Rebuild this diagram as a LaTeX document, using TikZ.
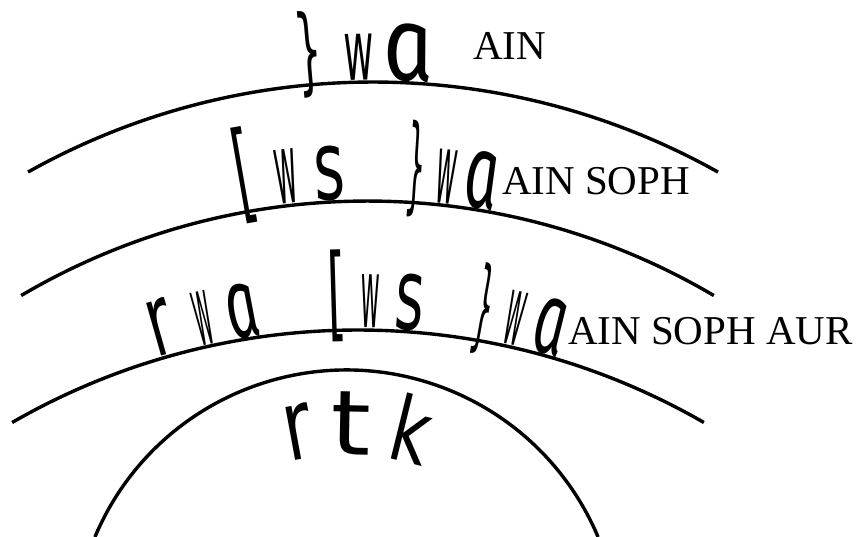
\documentclass[tikz,border=0pt]{standalone}
\usepackage{fontspec}
\usepackage{graphicx}
\setmainfont{Liberation Serif}
\newfontfamily\hsans{DejaVu Sans}
\newfontfamily\hafam{Fira Sans}[ItalicFeatures={FakeSlant=-0.2}]
\usetikzlibrary{calc}
\newcommand\hglyph[7]{%
  \pgfmathsetmacro\hgth{asin((#4)/(#3))}%
  \node[gl,rotate=-\hgth] (#1) at ($(#2)+({90-\hgth}:#3)$) {\resizebox*{#5pt}{#6pt}{#7}};%
}
\newcommand\hebA{{\hafam\itshape a}}
\begin{document}
\begin{tikzpicture}[x=1pt,y=1pt,line width=3.4pt,
  gl/.style={inner sep=0pt,outer sep=0pt,anchor=base,font=\hsans},
  lat/.style={inner sep=0pt,outer sep=0pt,anchor=base west,font=\fontsize{41}{45}\selectfont}]
\useasboundingbox (0,0) rectangle (863,537);
% arc centres (y measured upward)
\coordinate (C1) at (373,-251);
\coordinate (C2) at (367.5,-346);
\coordinate (C3) at (358,-486);
\coordinate (C4) at (346.5,-106);
\coordinate (C5) at (346.5,-158);
% arcs
\draw ($(C1)+(119.25:706)$) arc[start angle=119.25,end angle=60.75,radius=706];
\draw ($(C2)+(120.52:682)$) arc[start angle=120.52,end angle=59.48,radius=682];
\draw ($(C3)+(119.94:693)$) arc[start angle=119.94,end angle=60.06,radius=693];
\draw ($(C4)+(157.15:273)$) arc[start angle=157.15,end angle=22.85,radius=273];
% group 1
\hglyph{g1a}{C1}{708}{-62}{26}{87}{\}}
\hglyph{g1b}{C1}{708}{-14}{30}{46}{w}
\hglyph{g1c}{C1}{708}{38}{50}{58}{\hebA}
\node[lat] (t1) at (473,477) {AIN};
% group 2
\hglyph{g2a}{C2}{684}{-117.5}{20}{97}{[}
\hglyph{g2b}{C2}{684}{-78.5}{22}{54}{w}
\hglyph{g2c}{C2}{684}{-36.5}{31}{55}{s}
\hglyph{g2d}{C2}{684}{46.5}{19}{97}{\}}
\hglyph{g2e}{C2}{684}{75.5}{20}{54}{w}
\hglyph{g2f}{C2}{684}{112.5}{34}{58}{\hebA}
\node[lat] (t2) at (502,342) {AIN SOPH};
% group 3
\hglyph{g3a}{C3}{695}{-190}{24}{56}{r}
\hglyph{g3b}{C3}{695}{-149}{17}{54}{w}
\hglyph{g3c}{C3}{695}{-109}{32}{55}{\hebA}
\hglyph{g3d}{C3}{695}{-20}{19}{92}{[}
\hglyph{g3e}{C3}{695}{12}{19}{53}{w}
\hglyph{g3f}{C3}{695}{50}{29}{57}{s}
\hglyph{g3g}{C3}{695}{121}{19}{92}{\}}
\hglyph{g3h}{C3}{695}{151}{18}{54}{w}
\hglyph{g3i}{C3}{695}{188}{32}{57}{\hebA}
\node[lat] (t3) at (568,192) {AIN SOPH AUR};
% inner
\hglyph{g4a}{C5}{240}{-43.5}{28}{55}{r}
\hglyph{g4b}{C5}{240}{4.5}{40}{63}{t}
\hglyph{g4c}{C5}{240}{57.5}{38}{68}{k}
\end{tikzpicture}
\end{document}
